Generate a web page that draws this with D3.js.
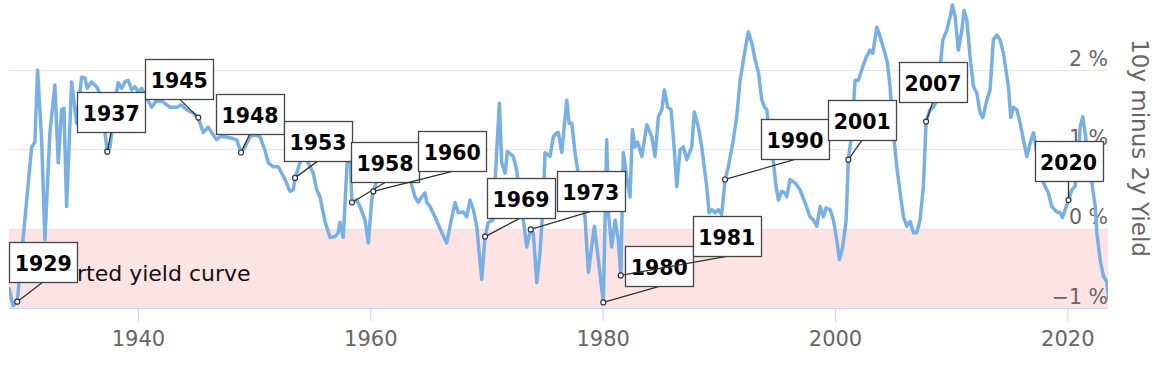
<!DOCTYPE html>
<html>
<head>
<meta charset="utf-8">
<script src="https://cdnjs.cloudflare.com/ajax/libs/d3/7.8.5/d3.min.js"></script>
<style>
	body { margin: 0; background: #fff; }
	svg { display: block; font-family: 'DejaVu Sans', sans-serif; }
</style>
</head>
<body>
<div id="chart"></div>
<script>
// 10y minus 2y spread (decimal year, percent)
var years = [1928.89, 1929.24, 1929.61, 1930.85, 1931.13, 1931.36, 1931.71, 1931.99, 1932.42, 1932.85,
	1933.14, 1933.43, 1933.63, 1933.86, 1934.29, 1934.72, 1935.15, 1935.44, 1935.63, 1936.01,
	1936.44, 1936.87, 1937.16, 1937.36, 1937.59, 1937.74, 1938.02, 1938.30, 1938.60, 1938.88,
	1939.16, 1939.46, 1939.74, 1940.03, 1940.32, 1940.75, 1941.18, 1941.61, 1942.15, 1942.47,
	1942.76, 1943.33, 1943.76, 1944.19, 1944.74, 1945.19, 1945.62, 1946.05, 1946.35, 1946.78,
	1947.06, 1947.49, 1948.07, 1948.50, 1948.87, 1949.21, 1949.64, 1950.07, 1950.50, 1950.93,
	1951.22, 1951.65, 1952.08, 1952.66, 1953.09, 1953.37, 1953.52, 1953.95, 1954.29, 1954.66,
	1955.09, 1955.39, 1955.67, 1956.10, 1956.53, 1956.96, 1957.24, 1957.39, 1957.67, 1958.11,
	1958.25, 1958.42, 1958.83, 1959.11, 1959.54, 1959.83, 1960.12, 1960.26, 1960.58, 1961.27,
	1962.13, 1962.99, 1963.42, 1963.85, 1964.13, 1964.43, 1964.71, 1964.86, 1965.14, 1965.57,
	1966.15, 1966.58, 1966.86, 1967.29, 1967.58, 1968.01, 1968.30, 1968.58, 1968.87, 1969.16,
	1969.59, 1969.88, 1970.16, 1970.56, 1971.11, 1971.31, 1971.60, 1971.80, 1972.31, 1972.60,
	1972.89, 1973.17, 1973.47, 1973.81, 1974.03, 1974.33, 1974.61, 1974.90, 1975.04, 1975.47,
	1975.76, 1976.05, 1976.19, 1976.48, 1976.91, 1977.11, 1977.34, 1977.62, 1978.05, 1978.48,
	1978.77, 1979.29, 1979.63, 1980.06, 1980.35, 1980.49, 1980.78, 1981.07, 1981.35, 1981.56,
	1981.78, 1982.07, 1982.36, 1982.56, 1982.79, 1983.02, 1983.37, 1983.80, 1984.23, 1984.51,
	1984.80, 1985.09, 1985.31, 1985.60, 1985.89, 1986.17, 1986.38, 1986.66, 1986.95, 1987.24,
	1987.67, 1987.89, 1988.24, 1988.53, 1988.96, 1989.16, 1989.39, 1989.68, 1989.96, 1990.25,
	1990.54, 1990.82, 1991.25, 1991.54, 1991.83, 1992.26, 1992.54, 1992.84, 1993.12, 1993.41,
	1993.70, 1993.98, 1994.13, 1994.41, 1994.70, 1994.93, 1995.13, 1995.42, 1995.70, 1995.84,
	1996.13, 1996.56, 1996.99, 1997.42, 1997.85, 1998.14, 1998.43, 1998.72, 1999.00, 1999.23,
	1999.58, 1999.86, 2000.15, 2000.38, 2000.67, 2000.96, 2001.15, 2001.45, 2001.73, 2002.01,
	2002.39, 2002.68, 2003.02, 2003.25, 2003.60, 2003.88, 2004.23, 2004.51, 2004.74, 2005.03,
	2005.32, 2005.61, 2005.89, 2006.18, 2006.47, 2006.75, 2007.04, 2007.32, 2007.61, 2007.84,
	2008.19, 2008.47, 2008.76, 2009.05, 2009.28, 2009.62, 2009.91, 2010.11, 2010.34, 2010.62,
	2010.92, 2011.11, 2011.35, 2011.63, 2011.92, 2012.21, 2012.49, 2012.72, 2013.07, 2013.35,
	2013.63, 2013.93, 2014.21, 2014.50, 2014.93, 2015.13, 2015.36, 2015.65, 2015.94, 2016.22,
	2016.51, 2016.80, 2017.08, 2017.49, 2017.83, 2018.09, 2018.37, 2018.66, 2019.09, 2019.38,
	2019.58, 2019.81, 2020.10, 2020.39, 2020.67, 2020.93, 2021.10, 2021.33, 2021.53, 2021.82,
	2022.11, 2022.40, 2022.54, 2022.82, 2023.11, 2023.40, 2023.55];

var spread = [-0.74, -0.97, -0.92, 1.03, 1.09, 2.00, 1.12, -0.14, 1.21, 1.81,
	0.83, 1.50, 1.52, 0.28, 1.85, 1.33, 1.91, 1.90, 1.77, 1.85,
	1.79, 1.66, 1.21, 0.97, 1.02, 1.21, 1.62, 1.84, 1.77, 1.85,
	1.87, 1.75, 1.79, 1.72, 1.77, 1.65, 1.53, 1.62, 1.60, 1.56,
	1.53, 1.53, 1.56, 1.50, 1.46, 1.40, 1.21, 1.28, 1.21, 1.12,
	1.16, 1.16, 1.14, 1.12, 0.96, 1.03, 1.16, 1.18, 1.16, 0.99,
	0.83, 0.78, 0.78, 0.62, 0.47, 0.49, 0.64, 0.83, 0.93, 0.83,
	0.70, 0.49, 0.40, 0.09, -0.11, -0.10, -0.05, 0.08, -0.11, 1.12,
	0.99, 0.33, 0.36, 0.28, 0.11, -0.18, 0.36, 0.47, 0.62, 0.81,
	0.87, 0.74, 0.62, 0.40, 0.33, 0.40, 0.45, 0.33, 0.28, 0.15,
	-0.05, -0.18, 0.03, 0.33, 0.20, 0.21, 0.15, 0.36, 0.24, 0.03,
	-0.64, -0.10, 0.08, 0.11, 1.58, 0.83, 0.70, 0.97, 0.91, 0.74,
	0.36, 0.11, -0.23, -0.01, -0.05, -0.68, -0.30, 0.36, 0.96, 0.91,
	1.16, 1.21, 1.21, 0.96, 1.62, 1.33, 1.33, 0.96, 0.55, 0.15,
	-0.55, 0.03, -0.39, -0.93, 1.12, 0.20, -0.23, 0.11, -0.14, -0.59,
	0.96, 0.65, 0.40, 1.25, 1.03, 1.09, 0.91, 1.31, 1.16, 0.91,
	1.41, 1.50, 1.75, 1.53, 1.50, 0.99, 0.53, 0.99, 1.03, 0.87,
	1.03, 1.47, 1.28, 1.03, 0.53, 0.20, 0.24, 0.20, 0.24, 0.18,
	0.62, 0.78, 1.12, 1.41, 1.87, 2.25, 2.48, 2.34, 2.13, 1.97,
	1.62, 1.52, 1.50, 1.12, 0.83, 0.53, 0.36, 0.47, 0.45, 0.40,
	0.62, 0.58, 0.49, 0.33, 0.15, 0.11, 0.03, 0.28, 0.15, 0.26,
	0.24, 0.11, -0.14, -0.39, -0.23, 0.11, 0.87, 1.21, 1.87, 1.87,
	2.04, 2.16, 2.25, 2.21, 2.54, 2.42, 2.25, 2.09, 1.79, 1.21,
	0.78, 0.45, 0.15, 0.03, 0.09, -0.05, -0.05, 0.11, 0.53, 1.35,
	1.50, 1.53, 1.62, 2.04, 2.38, 2.50, 2.67, 2.82, 2.67, 2.25,
	2.50, 2.75, 2.63, 2.16, 1.79, 1.71, 1.46, 1.40, 1.62, 1.75,
	2.38, 2.44, 2.38, 2.21, 1.79, 1.40, 1.53, 1.50, 1.33, 1.12,
	0.91, 1.08, 1.21, 0.87, 0.62, 0.53, 0.45, 0.28, 0.21, 0.20,
	0.14, 0.24, 0.36, 0.49, 0.53, 0.87, 1.28, 1.41, 1.21, 0.87,
	0.58, 0.28, -0.05, -0.39, -0.60, -0.67, -0.89];

// annotated inversions: label text and the point each label hangs from
var labelText = ['1929', '1937', '1945', '1948', '1953', '1958', '1960', '1969',
	'1973', '1980', '1981', '1990', '2001', '2007', '2020'];
var labelAt = [1929.61, 1937.36, 1945.19, 1948.87, 1953.52, 1958.42, 1960.26, 1969.88,
	1973.81, 1980.06, 1981.56, 1990.54, 2001.15, 2007.84, 2020.10];

var xTicks = [1940, 1960, 1980, 2000, 2020];
var yTicks = [-1, 0, 1, 2];
var bandLabel = 'Inverted yield curve';
var axisTitle = '10y minus 2y Yield';

// layout: where each label box sits relative to its point (px)
var labelDx = [26, 4, -19, 9, 23, 33, 79, 36, 60, 56, 106, 70, 14, 7, 0],
	labelDy = [-20, -20, -19, -19, -17, -20, -20, -19, -18, -16, -19, -20, -20, -20, -19];

var width = 1160,
	height = 371,
	plotLeft = 9,
	plotRight = 1108,
	plotTop = 0,
	plotBottom = 308,
	BOX_W = 68,
	BOX_H = 40;

var svg = d3.select('#chart').append('svg')
	.attr('width', width)
	.attr('height', height);

var x = d3.scaleLinear()
	.domain([1928.9, 2023.5])
	.range([plotLeft, plotRight]);

var y = d3.scaleLinear()
	.domain([-1, 2])
	.range([plotBottom, 70]);

var data = years.map((d, i) => [d, spread[i]]);

svg.append('defs').append('clipPath')
	.attr('id', 'plot')
	.append('rect')
	.attr('x', plotLeft)
	.attr('y', plotTop)
	.attr('width', plotRight - plotLeft)
	.attr('height', plotBottom - plotTop + 2);

// inverted band
svg.append('rect')
	.attr('x', plotLeft)
	.attr('y', y(0))
	.attr('width', plotRight - plotLeft)
	.attr('height', y(-1) - y(0))
	.attr('fill', '#fee3e4');

// grid
svg.append('g')
	.selectAll('line')
	.data(yTicks.filter(d => d > -1))
	.enter()
	.append('line')
	.attr('x1', plotLeft)
	.attr('x2', plotRight)
	.attr('y1', d => Math.round(y(d)) + 0.5)
	.attr('y2', d => Math.round(y(d)) + 0.5)
	.attr('stroke', '#e6e6e6');

svg.append('text')
	.attr('x', 30)
	.attr('y', 281)
	.attr('font-size', 22)
	.attr('fill', '#111')
	.text(bandLabel);

// x axis
var xAxis = d3.axisBottom(x)
	.tickValues(xTicks)
	.tickFormat(d3.format('d'))
	.tickSize(13)
	.tickPadding(8);

var gx = svg.append('g')
	.attr('transform', 'translate(0,' + (plotBottom + 0.5) + ')')
	.call(xAxis);

gx.select('.domain')
	.attr('d', 'M' + plotLeft + ',0H' + plotRight)
	.attr('stroke', '#ccd6eb');
gx.selectAll('.tick line')
	.attr('stroke', '#ccd6eb');
gx.selectAll('.tick text')
	.attr('font-family', 'DejaVu Sans, sans-serif')
	.attr('font-size', 21)
	.attr('fill', '#666')
	.attr('dy', null)
	.attr('y', 37);

// y axis labels on the right, sitting above their grid line
svg.append('g')
	.selectAll('text')
	.data(yTicks)
	.enter()
	.append('text')
	.attr('x', plotRight)
	.attr('y', d => y(d) - 4.5)
	.attr('text-anchor', 'end')
	.attr('font-size', 20.5)
	.attr('fill', '#666')
	.text(d => (d < 0 ? '\u2212' + Math.abs(d) : d) + ' %');

svg.append('text')
	.attr('transform', 'translate(1132,148) rotate(90)')
	.attr('text-anchor', 'middle')
	.attr('font-size', 23)
	.attr('fill', '#666')
	.text(axisTitle);

// series
var line = d3.line()
	.x(d => x(d[0]))
	.y(d => y(d[1]));

svg.append('path')
	.datum(data)
	.attr('clip-path', 'url(#plot)')
	.attr('d', line)
	.attr('fill', 'none')
	.attr('stroke', '#78b0e6')
	.attr('stroke-width', 3.5)
	.attr('stroke-linejoin', 'round');

// annotations
var notes = labelText.map(function(t, i) {
	var v = spread[years.indexOf(labelAt[i])];
	var px = x(labelAt[i]),
		py = y(v);
	return {
		text: t,
		px: px,
		py: py,
		bx: px + labelDx[i],
		by: py + labelDy[i]
	};
});

var note = svg.append('g')
	.selectAll('g.note')
	.data(notes)
	.enter()
	.append('g')
	.classed('note', true);

note.append('line')
	.attr('x1', d => d.px)
	.attr('y1', d => d.py)
	.attr('x2', d => d.bx)
	.attr('y2', d => d.by)
	.attr('stroke', '#333')
	.attr('stroke-width', 1.3);

note.append('rect')
	.attr('x', d => Math.round(d.bx - BOX_W / 2) + 0.5)
	.attr('y', d => Math.round(d.by - BOX_H) + 0.5)
	.attr('width', BOX_W)
	.attr('height', BOX_H)
	.attr('fill', '#fff')
	.attr('stroke', '#444')
	.attr('stroke-width', 1.3);

note.append('text')
	.attr('x', d => d.bx)
	.attr('y', d => d.by - 11)
	.attr('text-anchor', 'middle')
	.attr('font-size', 20.5)
	.attr('font-weight', 'bold')
	.attr('fill', '#000')
	.text(d => d.text);

note.append('circle')
	.attr('cx', d => d.px)
	.attr('cy', d => d.py)
	.attr('r', 2.5)
	.attr('fill', '#fff')
	.attr('stroke', '#333')
	.attr('stroke-width', 1.2);
</script>
</body>
</html>
